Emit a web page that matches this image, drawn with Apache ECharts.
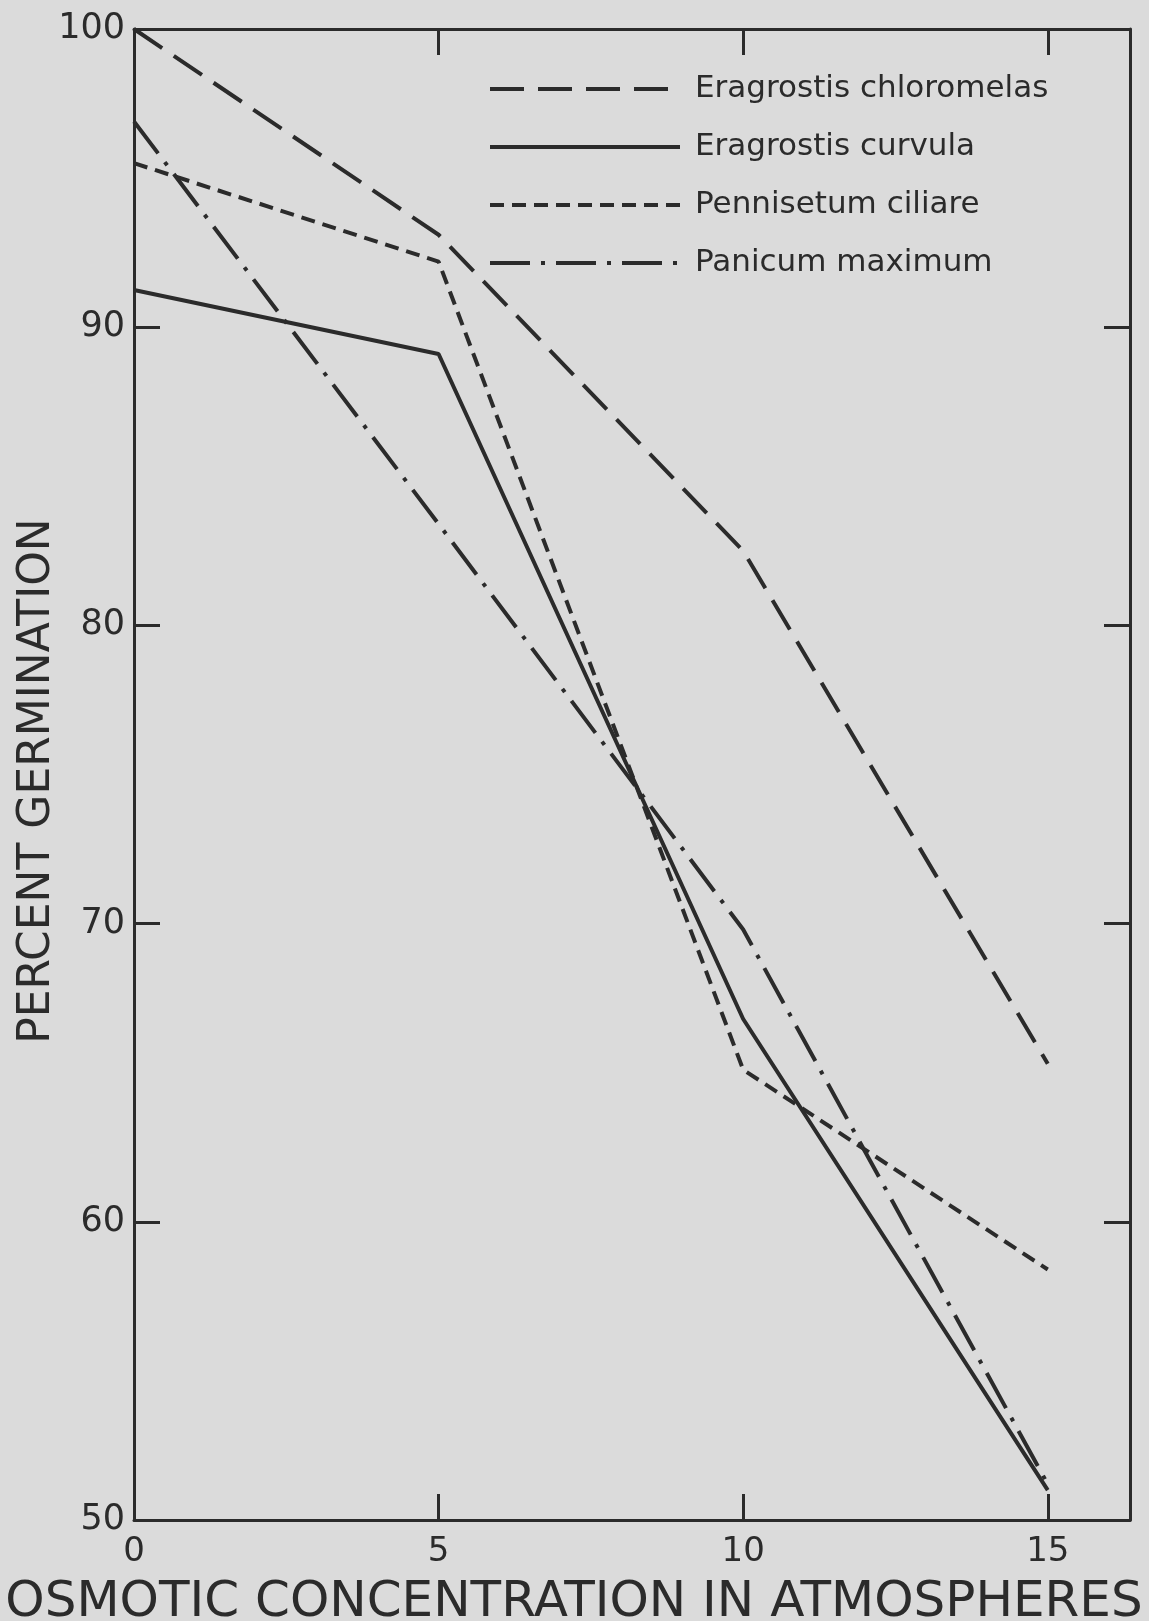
<!DOCTYPE html>
<html>
<head>
<meta charset="utf-8">
<script src="https://cdn.jsdelivr.net/npm/echarts@6/dist/echarts.min.js"></script>
<style>
html,body{margin:0;padding:0;background:#dbdbdb;}
#c{width:1149px;height:1621px;}
</style>
</head>
<body>
<div id="c"></div>
<script>
// ---- data ----
var xValues = [0, 5, 10, 15];
var seriesNames = ['Eragrostis chloromelas', 'Eragrostis curvula', 'Pennisetum ciliare', 'Panicum maximum'];
var chloromelas = [100, 93.1, 82.5, 65.3];
var curvula = [91.25, 89.1, 66.8, 51.0];
var ciliare = [95.5, 92.2, 65.1, 58.4];
var maximum = [96.9, 83.4, 69.8, 51.2];
var xTicks = [0, 5, 10, 15];
var yTicks = [50, 60, 70, 80, 90, 100];
var xTitle = 'OSMOTIC CONCENTRATION IN ATMOSPHERES';
var yTitle = 'PERCENT GERMINATION';

var INK = '#2b2b2b';
var FONT = 'DejaVu Sans';

function pairs(vals){ return xValues.map(function(x,i){ return [x, vals[i]]; }); }

var chart = echarts.init(document.getElementById('c'), null, {renderer:'canvas'});

function mkLine(name, vals, dash){
  return {
    name: name, type: 'line', data: pairs(vals),
    symbol: 'none', animation: false,
    xAxisIndex: 0, yAxisIndex: 0,
    lineStyle: {color: INK, width: 4, type: dash},
    itemStyle: {color: INK}
  };
}

var xBase = {
  type: 'value', min: 0, max: 16.35, interval: 5,
  splitLine: {show:false},
  axisLine: {show:true, onZero:false, lineStyle:{color:INK, width:3}},
  axisTick: {show:true, inside:true, length:26, lineStyle:{color:INK, width:3}}
};
var yBase = {
  type: 'value', min: 50, max: 100, interval: 10,
  splitLine: {show:false},
  axisLine: {show:true, onZero:false, lineStyle:{color:INK, width:3}},
  axisTick: {show:true, inside:true, length:26, lineStyle:{color:INK, width:3}}
};

var option = {
  backgroundColor: '#dbdbdb',
  animation: false,
  grid: {left: 134, right: 19, top: 29, bottom: 101, containLabel: false},
  xAxis: [
    Object.assign({}, xBase, {
      position: 'bottom',
      axisLabel: {show:true, margin: 15, color: INK, fontFamily: FONT, fontSize: 34,
        formatter: function(v){ return xTicks.indexOf(v) >= 0 ? String(v) : ''; }}
    }),
    Object.assign({}, xBase, {position: 'top', axisLabel: {show:false}})
  ],
  yAxis: [
    Object.assign({}, yBase, {
      position: 'left',
      axisLabel: {show:true, margin: 9, color: INK, fontFamily: FONT, fontSize: 35,
        formatter: function(v){ return yTicks.indexOf(v) >= 0 ? String(v) : ''; }}
    }),
    Object.assign({}, yBase, {position: 'right', axisLabel: {show:false}})
  ],
  legend: {
    show: true, orient: 'vertical', left: 483, top: 68,
    itemWidth: 190, itemHeight: 20, itemGap: 26,
    data: seriesNames,
    lineStyle: {width: 4},
    itemStyle: {opacity: 0, borderWidth: 0},
    formatter: function(n){ return '{a|' + n + '}'; },
    textStyle: {color: INK, fontFamily: FONT, fontSize: 31, lineHeight: 32,
      rich: {a: {fontFamily: FONT, fontSize: 31, lineHeight: 32, color: INK, padding: [0,0,0,10]}}},
    selectedMode: false
  },
  graphic: [
    {type:'text', x: 574, y: 1603,
      style:{text: xTitle, font: '50px "' + FONT + '"', fill: INK, textAlign:'center', textVerticalAlign:'middle'}},
    {type:'text', x: 38, y: 781, rotation: Math.PI/2,
      style:{text: yTitle, font: '44px "' + FONT + '"', fill: INK, textAlign:'center', textVerticalAlign:'middle'}}
  ],
  series: [
    mkLine(seriesNames[0], chloromelas, [34, 14]),
    mkLine(seriesNames[1], curvula, 'solid'),
    mkLine(seriesNames[2], ciliare, [14, 8]),
    mkLine(seriesNames[3], maximum, [40, 11, 4, 11])
  ]
};
chart.setOption(option);
</script>
</body>
</html>
